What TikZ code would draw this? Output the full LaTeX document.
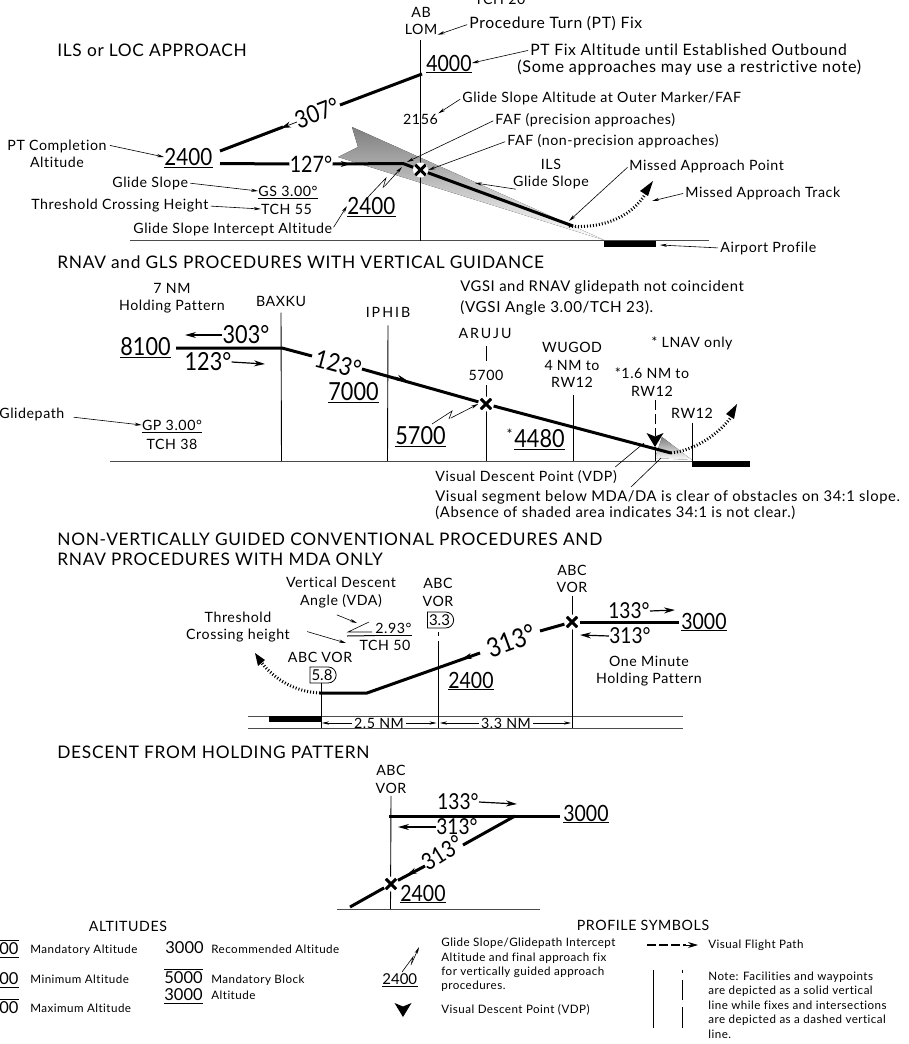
\documentclass[tikz,border=0pt]{standalone}
\usepackage{fontspec}
\usepackage{xcolor}
\setmainfont{Lato}[LetterSpace=4,Ligatures=NoCommon]
\newfontfamily\numfont{Lato}[FakeStretch=0.87]
\newfontfamily\numplain{Lato}
\usetikzlibrary{arrows.meta,shapes.misc,positioning}
\definecolor{shade}{RGB}{190,190,190}
\tikzset{every picture/.style={line width=0.75pt}}
\tikzset{
  lbl/.style={inner sep=0pt,align=center,font=\fontsize{14.2}{17.5}\selectfont},
  lblw/.style={lbl,anchor=west,align=left},
  lblm/.style={lblw,font=\fontsize{14.8}{17.5}\selectfont},
  lblb/.style={lblw,font=\fontsize{15.7}{18}\selectfont},
  head/.style={inner sep=0pt,anchor=west,align=left,font=\fontsize{17.3}{20}\selectfont},
  num/.style={inner xsep=0pt,inner ysep=1pt,anchor=west,font=\numfont\fontsize{23.7}{26}\selectfont},
  numl/.style={num,font=\numfont\fontsize{24.9}{27}\selectfont},
  nums/.style={num,font=\numfont\fontsize{22.4}{25}\selectfont},
  brg/.style={inner sep=0pt,font=\numfont\fontsize{24.3}{27}\selectfont},
  brgl/.style={inner sep=0pt,font=\numfont\fontsize{24.9}{27}\selectfont},
  brgs/.style={inner sep=0pt,font=\numfont\fontsize{22}{25}\selectfont},
  legn/.style={inner sep=0pt,anchor=west,align=left,font=\fontsize{11.6}{14.4}\selectfont},
  legb/.style={inner xsep=0pt,inner ysep=2pt,anchor=west,font=\numplain\fontsize{16.5}{18}\selectfont},
  rule/.style={append after command={(\tikzlastnode.south west) edge[line width=1pt] (\tikzlastnode.south east)}},
  orule/.style={append after command={(\tikzlastnode.north west) edge[line width=1pt] (\tikzlastnode.north east)}},
  lead/.style={line width=0.6pt,shorten <=2pt,-{Stealth[length=7pt,width=3.2pt]}},
  bearing/.style={line width=1.2pt,-{Stealth[length=11pt,width=6pt]}},
  tick/.style={line width=0.6pt},
  course/.style={line width=0.7pt,-{Stealth[length=10pt,width=6pt]}},
  track/.style={line width=3pt},
  fixline/.style={line width=0.9pt},
  ground/.style={line width=1pt,black!70},
  missed/.style={line width=3pt,dash pattern=on 1pt off 2pt},
  fixmark/.style={circle,inner sep=0pt,minimum size=15pt,fill=white,path picture={
      \draw[line width=3pt] ([xshift=-5.3pt,yshift=-5.3pt]path picture bounding box.center) -- ([xshift=5.3pt,yshift=5.3pt]path picture bounding box.center);
      \draw[line width=3pt] ([xshift=-5.3pt,yshift=5.3pt]path picture bounding box.center) -- ([xshift=5.3pt,yshift=-5.3pt]path picture bounding box.center);}},
  brgbox/.style={draw,line width=0.8pt,rounded rectangle,rounded rectangle left arc=none,inner xsep=1.5pt,inner ysep=1pt,minimum height=16pt,font=\numplain\fontsize{15}{16}\selectfont},
  vdpmark/.pic={\fill (-8.5,14) -- (0,10.5) -- (8.5,14) -- (0,0) -- cycle;}
}
\begin{document}
\begin{tikzpicture}[x=1pt,y=1pt,yscale=-1,xscale=1]
    \useasboundingbox (0,0) rectangle (908,1044);
    \clip (0,0) rectangle (908,1044);

    \fill [shade] (352,127) -- (358,147) -- (338,157) -- (604,240) -- cycle;
    \fill [shade] (662,437) -- (692,460) -- (655,458) -- cycle;

    \coordinate (gl1a) at (130,240.5);
    \coordinate (gl1b) at (709,240.5);
    \coordinate (om1t) at (420.5,40);
    \coordinate (om1b) at (420.5,240.5);
    \draw [ground] (gl1a) -- (gl1b);
    \draw [fixline] (om1t) -- (om1b);
    \fill (604,240.5) rectangle (656,247);

    \node [head] (ilshead) at (57,50) {ILS or LOC APPROACH};
    \node [lbl] (tchtop) at (500,-1) {TCH 20};
    \node [lbl] (ablom) at (421,21) {AB\\[-1pt]LOM};
    \node [lblb] (ptfix) at (469,24) {Procedure Turn (PT) Fix};
    \node [nums,rule] (alt4000) at (426,63) {4000};
    \node [lblb] (ptfixalt) at (530,50) {PT Fix Altitude until Established Outbound};
    \node [lblb,font=\fontsize{16.2}{18}\selectfont] (ptfixnote) at (517,68) {(Some approaches may use a restrictive note)};
    \node [brg,rotate=21] (brg307) at (317,113) {307°};
    \node [lbl] (ptcomp) at (57,154) {PT Completion\\Altitude};
    \node [num,rule] (alt2400a) at (164,157) {2400};
    \node [brgs,font=\numfont\fontsize{22.6}{25}\selectfont] (brg127) at (311,164) {127°};
    \node [lbl] (gsalt) at (420.5,119) {2156};
    \node [lblw] (gsaltnote) at (462,98) {Glide Slope Altitude at Outer Marker/FAF};
    \node [lblw] (fafprec) at (495,120) {FAF (precision approaches)};
    \node [lblw] (fafnon) at (507,141) {FAF (non-precision approaches)};
    \node [lbl] (ilsgs) at (551,174) {ILS\\Glide Slope};
    \node [lblw] (mappt) at (629,166) {Missed Approach Point};
    \node [lblw] (mattrk) at (685,193) {Missed Approach Track};
    \node [lblw] (aprof) at (720,248) {Airport Profile};
    \node [lblw] (gslabel) at (112,183) {Glide Slope};
    \node [lblw] (tchlabel) at (31,206) {Threshold Crossing Height};
    \node [lblw] (gsintlabel) at (133,229) {Glide Slope Intercept Altitude};
    \node [lbl,rule,inner ysep=2pt] (gs300) at (288,191) {GS 3.00°};
    \node [lbl] (tch55) at (286.5,209) {TCH 55};
    \node [num,rule] (alt2400b) at (347,206) {2400};
    \node [fixmark] (fix1) at (420.5,170) {};

    \coordinate (trk1a) at (220,151);
    \coordinate (trk1b) at (283,127);
    \coordinate (trk1c) at (340,105);
    \coordinate (trk1d) at (422,74);
    \coordinate (trk2a) at (220,163.5);
    \coordinate (trk2b) at (403,163.5);
    \coordinate (trk2c) at (573,226);
    \coordinate (mapa) at (569,226);
    \coordinate (gsi1) at (368,197);
    \coordinate (gsi2) at (386,178);
    \coordinate (gsi3) at (383,188);
    \coordinate (gsi4) at (402,167);
    \coordinate (ptcompa) at (108,145);
    \draw [track] (trk1a) -- (trk1b);
    \draw [track] (trk1c) -- (trk1d);
    \draw [course] (brg307) ++(-20,9) -- (281,128);
    \draw [track] (trk2a) -- (brg127.west);
    \draw [track] (brg127.east) -- (trk2b) -- (fix1);
    \draw [course] (brg127.east) -- ++(18,0);
    \draw [track] (fix1) -- (trk2c);
    \draw [missed] (mapa) .. controls (597,229) and (630,220) .. (646,193);
    \fill (653,181) -- (640,191) -- (648,196) -- cycle;
    \draw [lead] (ptfix.west) -- (ablom.south east);
    \draw [lead] (ptfixalt.west) -- (alt4000.east);
    \draw [lead] (gsaltnote.west) -- (gsalt.north east);
    \draw [lead] (fafprec.west) -- (407,162);
    \draw [lead] (fafnon.west) -- (fix1.east);
    \draw [lead] (ilsgs.205) -- (475,183);
    \draw [lead] (mappt.west) -- (569,221);
    \draw [lead] (mattrk.west) -- (652,201);
    \draw [lead] (aprof.west) -- (660,245);
    \draw [lead] (ptcompa) -- (alt2400a.west);
    \draw [lead] (gslabel.east) -- (gs300.west);
    \draw [lead] (tchlabel.east) -- (tch55.west);
    \draw [lead] (gsintlabel.east) -- (alt2400b.west);
    \draw [tick] (gsi1) -- (gsi2) -- (gsi3);
    \draw [lead] (gsi3) -- (gsi4);

    \coordinate (gl2a) at (110,461);
    \coordinate (gl2b) at (750,461);
    \draw [ground] (gl2a) -- (gl2b);
    \fill (692,461) rectangle (750,467);
    \node [head] (rnavhead) at (57,262) {RNAV and GLS PROCEDURES WITH VERTICAL GUIDANCE};
    \node [lblm] (vgsia) at (460,287) {VGSI and RNAV glidepath not coincident};
    \node [lblm,font=\fontsize{15.2}{17.5}\selectfont] (vgsib) at (460,308) {(VGSI Angle 3.00/TCH 23).};
    \node [lbl] (holdnm) at (172,298) {7 NM\\Holding Pattern};
    \node [lbl] (baxku) at (281,301) {BAXKU};
    \node [lbl] (iphib) at (388,312) {\addfontfeature{LetterSpace=14}IPHIB};
    \node [lbl] (aruju) at (485,333) {\addfontfeature{LetterSpace=14}ARUJU};
    \node [lbl] (wugod) at (572,365) {WUGOD\\4 NM to\\RW12};
    \node [lbl] (lnav) at (692,343) {* LNAV only};
    \node [lbl] (ptone) at (652,382) {*1.6 NM to\\RW12};
    \node [lbl] (rwend) at (692,413) {RW12};
    \node [lbl] (fix5700) at (486,375) {5700};
    \node [numl,rule] (alt8100) at (120,347) {8100};
    \node [brgl] (brg303) at (246,335) {303°};
    \node [brgl] (brg123a) at (208,362) {123°};
    \node [brgl,rotate=-15] (brg123b) at (338,364) {123°};
    \node [numl,rule] (alt7000) at (328,392) {7000};
    \node [numl,rule] (alt5700) at (395,436) {5700};
    \node [numl,rule] (alt4480) at (514,439) {4480};
    \node [inner sep=0pt,left=1pt of alt4480.north west,anchor=north east,font=\fontsize{14}{14}\selectfont] (star4480) {*};
    \node [lbl,rule,inner ysep=2pt] (gp300) at (172,425) {GP 3.00°};
    \node [lbl] (tch38) at (172,444) {TCH 38};
    \node [lblw] (glidepath) at (-1,414) {Glidepath};
    \node [lblw] (vdptext) at (435,477) {Visual Descent Point (VDP)};
    \node [lblm] (clrtext) at (435,497) {Visual segment below MDA/DA is clear of obstacles on 34:1 slope.};
    \node [lblm] (clrnote) at (435,513) {(Absence of shaded area indicates 34:1 is not clear.)};

    \draw [fixline] (baxku.south) ++(0,6) -- (281.5,461);
    \draw [fixline] (iphib.south) ++(0,8) -- (387.5,461);
    \draw [fixline] (486,346) -- (486,361);
    \draw [fixline] (486,385) -- (486,461);
    \draw [fixline] (573.5,395) -- (573.5,461);
    \draw [fixline,dash pattern=on 10pt off 4pt] (655,400) -- (655,436);
    \draw [fixline] (655,447) -- (655,461);
    \draw [fixline] (692,423) -- (692,461);
    \node [fixmark] (fix2) at (486,404) {};
    \pic at (655,447) {vdpmark};

    \coordinate (hold2a) at (176,348);
    \coordinate (hold2b) at (282,348);
    \coordinate (trk3a) at (312,356);
    \coordinate (trk3b) at (362,369);
    \coordinate (trk3c) at (671,453);
    \draw [track] (hold2a) -- (hold2b) -- (trk3a);
    \draw [track] (trk3b) -- (fix2);
    \draw [track] (fix2) -- (trk3c);
    \draw [course] (395,377) -- (407,380.5);
    \draw [bearing] (brg303.west) -- (185,335);
    \draw [bearing] (brg123a.east) -- (265,364);
    \draw [lead] (glidepath.east) ++(7,3) -- (gp300.west);
    \draw [missed] (671,453) .. controls (695,450) and (718,435) .. (732,416);
    \fill (737,404) -- (726,414) -- (734,419) -- cycle;
    \draw [tick] (vdptext.east) ++(-2,-10) -- (644,443);
    \draw [tick] (631,487) -- (661,458);
    \draw [tick] (432,424) -- (452,411) -- (449,419);
    \draw [lead] (449,419) -- (fix2.west);

    \node [head] (convhead) at (57,539) {NON-VERTICALLY GUIDED CONVENTIONAL PROCEDURES AND};
    \node [head] (convheadb) at (57,559) {RNAV PROCEDURES WITH MDA ONLY};
    \coordinate (gl3a) at (248,716);
    \coordinate (gl3b) at (683,716);
    \coordinate (gl3c) at (248,728);
    \coordinate (gl3d) at (683,728);
    \draw [ground] (gl3a) -- (gl3b);
    \draw [ground] (gl3c) -- (gl3d);
    \fill (268.5,716) rectangle (321,722);
    \node [lbl] (vda) at (341,592.5) {Vertical Descent\\Angle (VDA)};
    \node [lbl] (thrcross) at (238,627) {Threshold\\Crossing height};
    \node [lbl,anchor=west,rule,inner ysep=2pt,inner xsep=0pt] (vda293) at (375,628) {2.93°};
    \node [lbl] (tch50) at (385,645) {TCH 50};
    \coordinate (rule3a) at (347,636);
    \draw [line width=1pt] (rule3a) -- (vda293.south west);
    \draw [tick] (369,622) -- (348,632) -- (372,632);
    \node [lbl] (abc3a) at (438,592.5) {ABC\\VOR};
    \node [brgbox] (box33) at (439.5,620) {3.3};
    \node [lbl] (abc3b) at (572,579) {ABC\\VOR};
    \node [lbl] (abc3c) at (320,657) {ABC VOR};
    \node [brgbox] (box58) at (322,675) {5.8};
    \node [brgs] (brg133) at (629,611) {133°};
    \node [brgs] (brg313a) at (630,636) {313°};
    \node [nums,rule] (alt3000a) at (681,621) {3000};
    \node [lbl] (onemin) at (649,671) {One Minute\\Holding Pattern};
    \node [brg,font=\numfont\fontsize{26.5}{29}\selectfont,rotate=20] (brg313b) at (511,641) {313°};
    \node [nums,rule] (alt2400c) at (448,680) {2400};
    \node [lbl] (nm25) at (379,723) {2.5 NM};
    \node [lbl] (nm33) at (506,723) {3.3 NM};

    \draw [fixline] (438.5,632) -- (438.5,636);
    \draw [fixline] (438.5,641) -- (438.5,728);
    \draw [fixline] (572,596) -- (572,728);
    \draw [fixline] (box58.south -| 321,0) -- (321,728);
    \node [fixmark] (fix3) at (572,622) {};
    \coordinate (hold3) at (679,622);
    \coordinate (trk4a) at (540,631);
    \coordinate (trk4b) at (480,653);
    \coordinate (trk4c) at (367,693);
    \coordinate (trk4d) at (320,693);
    \draw [track] (fix3) -- (hold3);
    \draw [track] (fix3) -- (trk4a);
    \draw [track] (trk4b) -- (trk4c) -- (trk4d);
    \draw [course] (480,653) -- (462,659);
    \draw [bearing] (brg133.east) -- (675,610);
    \draw [bearing] (brg313a.west) -- (580,635);
    \draw [missed] (320,693) .. controls (296,692) and (275,680) .. (261,662);
    \fill (255,653) -- (265,660) -- (258,666) -- cycle;
    \draw [lead] (vda.south) ++(-6,6) -- (357,623);
    \draw [lead] (thrcross.east) ++(15,4) -- (346,643);
    \draw [lead] (nm25.west) -- (322,723);
    \draw [lead] (nm25.east) -- (436.5,723);
    \draw [lead] (nm33.west) -- (440,723);
    \draw [lead] (nm33.east) -- (571,723);

    \node [head] (deschead) at (57,752) {DESCENT FROM HOLDING PATTERN};
    \node [lbl] (abc4) at (391,779.5) {ABC\\VOR};
    \coordinate (gl4a) at (337,909);
    \coordinate (gl4b) at (540,909);
    \draw [ground] (gl4a) -- (gl4b);
    \draw [fixline] (abc4.south) ++(0,2) -- (390.5,909);
    \node [nums,rule] (alt3000b) at (563,813) {3000};
    \node [brgs] (brg133b) at (458,802) {133°};
    \node [brgs] (brg313c) at (457,827) {313°};
    \node [brgs,font=\numfont\fontsize{23.2}{25}\selectfont,rotate=32] (brg313d) at (442,853) {313°};
    \node [nums,rule] (alt2400d) at (400,893) {2400};
    \node [fixmark] (fix4) at (391,884) {};
    \coordinate (hold4a) at (389,816);
    \coordinate (hold4b) at (560,816);
    \coordinate (trk5a) at (515,816);
    \coordinate (trk5b) at (463,845);
    \coordinate (trk5c) at (425,866);
    \coordinate (trk5d) at (350,907);
    \draw [track] (hold4a) -- (hold4b);
    \draw [track] (trk5a) -- (trk5b);
    \draw [track] (trk5c) -- (fix4);
    \draw [track] (fix4) -- (trk5d);
    \draw [course] (trk5c) -- (407,875);
    \draw [bearing] (brg133b.east) -- (517,804);
    \draw [bearing] (brg313c.west) -- (398,827);

    \node [lbl] (althead) at (128,926) {ALTITUDES};
    \node [legb,orule,rule] (lgm) at (-1,949) {00};
    \node [legb,rule] (lgn) at (-1,979) {00};
    \node [legb,orule] (lgx) at (-1,1008) {00};
    \node [legn] (lgmt) at (30,950) {Mandatory Altitude};
    \node [legn] (lgnt) at (30,979) {Minimum Altitude};
    \node [legn] (lgxt) at (30,1008) {Maximum Altitude};
    \node [legb] (lg3000) at (165,948) {3000};
    \node [legn] (lgrt) at (211,949) {Recommended Altitude};
    \node [legb,orule] (lg5000) at (164,978) {5000};
    \node [legb,rule] (lg3000b) at (164,995) {3000};
    \node [legn] (lgbt) at (211,987) {Mandatory Block\\[1.5pt]Altitude};
    \node [legb,rule,font=\numplain\fontsize{15}{16}\selectfont] (lg2400) at (382,979) {2400};
    \node [lbl] (profhead) at (643,925) {PROFILE SYMBOLS};
    \node [legn] (lggsi) at (441,965) {Glide Slope/Glidepath Intercept\\Altitude and final approach fix\\for vertically guided approach\\procedures.};
    \node [legn] (lgvdp) at (441,1010) {Visual Descent Point (VDP)};
    \node [legn] (lgvfp) at (708,945) {Visual Flight Path};
    \node [legn] (lgnote) at (708,1005) {Note: Facilities and waypoints\\are depicted as a solid vertical\\line while fixes and intersections\\are depicted as a dashed vertical\\line.};
    \pic at (403,1017) {vdpmark};
    \coordinate (vfpa) at (647,945);
    \coordinate (vfpb) at (698,945);
    \draw [line width=2.2pt,dash pattern=on 9pt off 3pt] (vfpa) -- (686,945);
    \draw [course,line width=0.8pt] (686,945) -- (vfpb);
    \draw [fixline] (653,970) -- (653,1028);
    \draw [fixline] (682,970) -- (682,973);
    \draw [fixline] (682,980) -- (682,1000);
    \draw [fixline] (682,1007) -- (682,1028);
    \draw [tick] (402,972) -- (413,957) -- (411,965);
    \draw [lead] (411,965) -- (419,947);
\end{tikzpicture}
\end{document}
